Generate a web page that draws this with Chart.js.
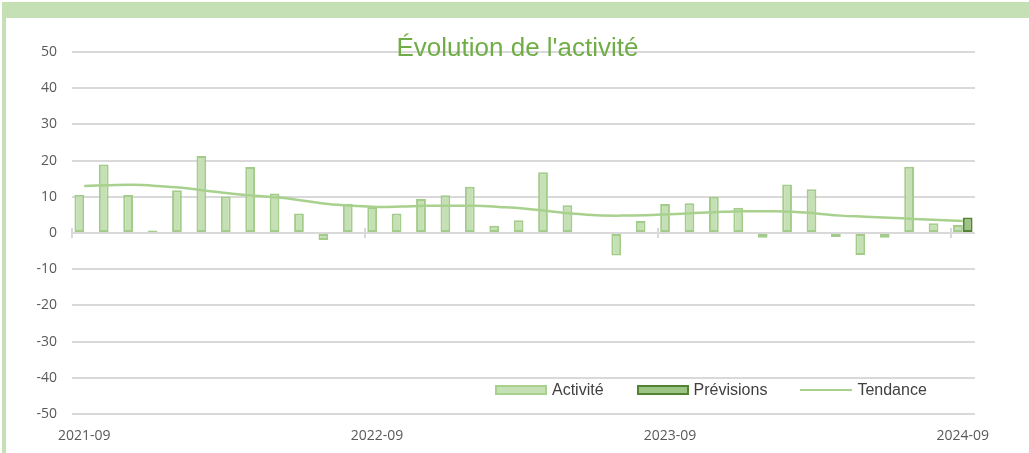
<!DOCTYPE html>
<html lang="fr">
<head>
<meta charset="utf-8">
<title>Évolution de l'activité</title>
<script src="https://cdn.jsdelivr.net/npm/chart.js@4.4.0/dist/chart.umd.min.js"></script>
<style>
  html, body { margin: 0; padding: 0; background: #fff; }
  body { width: 1029px; height: 453px; position: relative; overflow: hidden; }
  #frame {
    position: absolute; left: 2px; top: 2px; right: 0; bottom: 0;
    border-top: 16px solid #c5e0b4; border-left: 4px solid #c5e0b4;
  }
  #wrap { position: absolute; left: 6px; top: 18px; width: 1023px; height: 435px; }
  #title {
    position: absolute; left: 6px; right: 0; top: 32px; text-align: center;
    font: 26px/30px "Liberation Sans", Arial, sans-serif; color: #70ad47;
    pointer-events: none;
  }
  #legend {
    position: absolute; left: 495px; top: 380px; height: 20px;
    display: flex; align-items: center;
    font: 16px/20px "Liberation Sans", Arial, sans-serif; color: #404040;
  }
  #legend .item { display: flex; align-items: center; margin-right: 33px; }
  #legend .item:last-child { margin-right: 0; }
  #legend .box { width: 48px; height: 6px; margin-right: 5px; }
  #legend .ln { width: 52px; height: 2px; margin-right: 5px; }
</style>
</head>
<body>
<div id="frame"></div>
<div id="wrap"><canvas id="chart" width="1023" height="435"></canvas></div>
<div id="title">Évolution de l'activité</div>
<div id="legend">
  <div class="item"><span class="box" style="background:#c5e0b4;border:2px solid #a9d18e"></span>Activité</div>
  <div class="item"><span class="box" style="background:#9cc483;border:2px solid #548235"></span>Prévisions</div>
  <div class="item"><span class="ln" style="background:#a9d18e"></span>Tendance</div>
</div>
<script>
// months shown on the category axis
const months = [
  "2021-09", "2021-10", "2021-11", "2021-12", "2022-01", "2022-02", "2022-03", "2022-04",
  "2022-05", "2022-06", "2022-07", "2022-08", "2022-09", "2022-10", "2022-11", "2022-12",
  "2023-01", "2023-02", "2023-03", "2023-04", "2023-05", "2023-06", "2023-07", "2023-08",
  "2023-09", "2023-10", "2023-11", "2023-12", "2024-01", "2024-02", "2024-03", "2024-04",
  "2024-05", "2024-06", "2024-07", "2024-08", "2024-09"
];
const shownLabels = ["2021-09", "2022-09", "2023-09", "2024-09"];

// monthly activity (%)
const activite = [
  10.6, 18.9, 10.5, 0.7, 11.8, 21.3, 10.1, 18.2, 10.9, 5.4, -1.9, 8.1, 7.2,
  5.4, 9.4, 10.4, 12.8, 2.0, 3.5, 16.8, 7.7, 0.2, -6.2, 3.3, 8.0,
  8.2, 10.0, 7.0, -1.3, 13.4, 12.1, -1.1, -6.1, -1.3, 18.3, 2.7, 2.2
];

// forecast, only the last month
const previsions = [
  null, null, null, null, null, null, null, null, null, null, null, null, null,
  null, null, null, null, null, null, null, null, null, null, null, null,
  null, null, null, null, null, null, null, null, null, null, null, 4.3
];

// smoothed trend
const tendance = [
  13.0, 13.2, 13.3, 13.0, 12.5, 11.7, 10.9, 10.3, 9.8, 8.9, 8.0, 7.5, 7.2,
  7.3, 7.5, 7.5, 7.5, 7.2, 6.8, 6.1, 5.4, 4.9, 4.8, 4.9, 5.2,
  5.5, 5.8, 6.0, 6.0, 5.9, 5.4, 4.8, 4.5, 4.2, 3.9, 3.6, 3.3
];

const yTicks = { min: -50, max: 50, step: 10 };

// little tick marks on the zero line, one per year boundary
const zeroTicks = {
  id: "zeroTicks",
  beforeDatasetsDraw(chart) {
    const x = chart.scales.x, y = chart.scales.y;
    const w = x.getPixelForValue(1) - x.getPixelForValue(0);
    const y0 = Math.round(y.getPixelForValue(0));
    const ctx = chart.ctx;
    ctx.save();
    ctx.strokeStyle = "#d9d9d9";
    ctx.lineWidth = 2;
    months.forEach((m, i) => {
      if (shownLabels.indexOf(m) === -1) return;
      const px = Math.round(x.getPixelForValue(i) - w / 2);
      ctx.beginPath();
      ctx.moveTo(px, y0 - 5);
      ctx.lineTo(px, y0 + 5);
      ctx.stroke();
    });
    ctx.restore();
  }
};

const ctx = document.getElementById("chart").getContext("2d");
new Chart(ctx, {
  type: "bar",
  data: {
    labels: months,
    datasets: [
      {
        label: "Tendance",
        type: "line",
        data: tendance,
        borderColor: "#a9d18e",
        borderWidth: 2.5,
        pointRadius: 0,
        tension: 0.4,
        fill: false,
        order: 0
      },
      {
        label: "Activité",
        data: activite,
        backgroundColor: "#c5e0b4",
        borderColor: "#a3cc8a",
        borderWidth: 2,
        borderSkipped: false,
        categoryPercentage: 0.8,
        barPercentage: 1,
        order: 1
      },
      {
        label: "Prévisions",
        data: previsions,
        backgroundColor: "#9cc483",
        borderColor: "#548235",
        borderWidth: 2,
        borderSkipped: false,
        categoryPercentage: 0.8,
        barPercentage: 1,
        order: 1
      }
    ]
  },
  options: {
    responsive: false,
    animation: false,
    layout: { padding: { left: 0, right: 54, top: 34, bottom: 9 } },
    plugins: {
      legend: { display: false },
      title: { display: false },
      tooltip: { enabled: false }
    },
    scales: {
      x: {
        offset: true,
        grid: { display: false, drawTicks: false },
        border: { display: false },
        ticks: {
          autoSkip: false,
          maxRotation: 0,
          padding: 14,
          color: "#595959",
          font: { family: "'Open Sans', sans-serif", size: 14 },
          callback: function (value, index) {
            const m = months[index];
            return shownLabels.indexOf(m) !== -1 ? m : "";
          }
        },
        afterFit: function (scale) { scale.height = 30; }
      },
      y: {
        min: yTicks.min,
        max: yTicks.max,
        grid: { color: "#d9d9d9", lineWidth: 2, drawTicks: false },
        border: { display: false },
        ticks: {
          stepSize: yTicks.step,
          padding: 15,
          color: "#595959",
          font: { family: "'Open Sans', sans-serif", size: 14 }
        },
        afterFit: function (scale) { scale.width = 66; }
      }
    }
  },
  plugins: [zeroTicks]
});
</script>
</body>
</html>
